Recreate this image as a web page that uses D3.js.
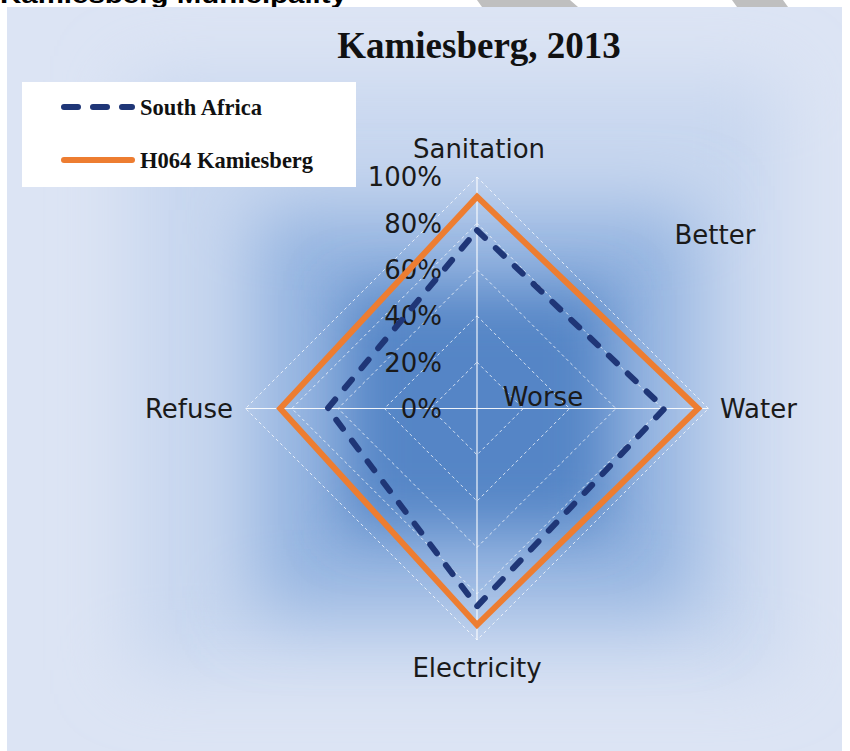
<!DOCTYPE html>
<html>
<head>
<meta charset="utf-8">
<script src="https://cdn.jsdelivr.net/npm/d3@7"></script>
<style>
  html, body { margin: 0; padding: 0; background: #ffffff; }
  svg { display: block; }
</style>
</head>
<body>
<svg id="chart" width="850" height="751"></svg>
<script>
// Service access indicators, share of households
const categories = ["Sanitation", "Water", "Electricity", "Refuse"];
const southAfrica = [0.77, 0.81, 0.855, 0.645];
const kamiesberg = [0.915, 0.955, 0.935, 0.85];
const tickValues = [0, 0.2, 0.4, 0.6, 0.8, 1.0];
const seriesNames = ["South Africa", "H064 Kamiesberg"];

const svg = d3.select("#chart");
const W = 850, H = 751;

const defs = svg.append("defs");
const blur = defs.append("filter").attr("id", "soft")
  .attr("x", "-50%").attr("y", "-50%").attr("width", "200%").attr("height", "200%");
blur.append("feGaussianBlur").attr("stdDeviation", 36);
const blurSmall = defs.append("filter").attr("id", "softer")
  .attr("x", "-50%").attr("y", "-50%").attr("width", "200%").attr("height", "200%");
blurSmall.append("feGaussianBlur").attr("stdDeviation", 28);

// Page header behind the panel
svg.append("text")
  .attr("x", 0).attr("y", 3)
  .attr("font-family", "Liberation Sans, Arial, sans-serif")
  .attr("font-weight", "bold").attr("font-size", 24)
  .attr("textLength", 347).attr("lengthAdjust", "spacingAndGlyphs")
  .attr("fill", "#000")
  .text("Kamiesberg Municipality");

const tabs = svg.append("g").attr("fill", "#bfbfbf");
tabs.append("polygon").attr("points", "477,0 570,0 578,7 482,7");
tabs.append("polygon").attr("points", "732,0 783,0 788,7 737,7");

// Chart panel with soft blue shading toward the middle
const panel = svg.append("g");
panel.append("rect").attr("x", 7).attr("y", 7).attr("width", 835).attr("height", H - 7)
  .attr("fill", "#dce4f4");
defs.append("clipPath").attr("id", "panelClip").append("rect")
  .attr("x", 7).attr("y", 7).attr("width", 835).attr("height", H - 7);
const shade = panel.append("g").attr("clip-path", "url(#panelClip)");
shade.append("rect").attr("x", 130).attr("y", 80).attr("width", 650).attr("height", 590)
  .attr("fill", "#c8d7ef").attr("filter", "url(#soft)");
shade.append("rect").attr("x", 255).attr("y", 210).attr("width", 440).attr("height", 400)
  .attr("fill", "#93b3e0").attr("filter", "url(#soft)");
shade.append("rect").attr("x", 345).attr("y", 290).attr("width", 265).attr("height", 240)
  .attr("fill", "#5585c6").attr("filter", "url(#softer)");

// Radar geometry
const cx = 477, cy = 408.5, R = 231.5;
const r = d3.scaleLinear().domain([0, 1]).range([0, R]);
const step = 2 * Math.PI / categories.length;
const ang = (i) => i * step; // 0 = up, clockwise
const px = (i, v) => cx + r(v) * Math.sin(ang(i));
const py = (i, v) => cy - r(v) * Math.cos(ang(i));

const grid = svg.append("g");
// rings
tickValues.filter(t => t > 0).forEach(t => {
  grid.append("polygon")
    .attr("points", categories.map((c, i) => [px(i, t), py(i, t)].join(",")).join(" "))
    .attr("fill", "none")
    .attr("stroke", "#ffffff").attr("stroke-opacity", 0.75)
    .attr("stroke-width", 1).attr("stroke-dasharray", "3,3");
});
// spokes
categories.forEach((c, i) => {
  grid.append("line")
    .attr("x1", cx).attr("y1", cy)
    .attr("x2", px(i, 1)).attr("y2", py(i, 1))
    .attr("stroke", "#ffffff").attr("stroke-opacity", 0.9).attr("stroke-width", 1.2);
});

// radial tick labels along the vertical axis
const labelFont = "DejaVu Sans, Verdana, sans-serif";
svg.append("g").selectAll("text").data(tickValues).join("text")
  .attr("x", 442)
  .attr("y", d => cy - r(d))
  .attr("dy", "0.36em")
  .attr("text-anchor", "end")
  .attr("font-family", labelFont).attr("font-size", 26)
  .attr("fill", "#1a1a1a")
  .text(d => d3.format(".0%")(d));

// series
const line = d3.line().x(d => d[0]).y(d => d[1]).curve(d3.curveLinearClosed);
const toPts = (vals) => vals.map((v, i) => [px(i, v), py(i, v)]);

svg.append("path")
  .attr("d", line(toPts(kamiesberg)))
  .attr("fill", "none").attr("stroke", "#ed7d31")
  .attr("stroke-width", 6).attr("stroke-linejoin", "miter");

svg.append("path")
  .attr("d", line(toPts(southAfrica)))
  .attr("fill", "none").attr("stroke", "#1f3677")
  .attr("stroke-width", 6).attr("stroke-linecap", "round")
  .attr("stroke-dasharray", "11,15");

// category labels
const catLabels = svg.append("g")
  .attr("font-family", labelFont).attr("font-size", 26).attr("fill", "#1a1a1a");
catLabels.append("text").attr("x", cx + 2).attr("y", 158).attr("text-anchor", "middle").text(categories[0]);
catLabels.append("text").attr("x", 720).attr("y", 418).attr("text-anchor", "start").text(categories[1]);
catLabels.append("text").attr("x", cx).attr("y", 677).attr("text-anchor", "middle").text(categories[2]);
catLabels.append("text").attr("x", 233).attr("y", 418).attr("text-anchor", "end").text(categories[3]);
catLabels.append("text").attr("x", 715).attr("y", 244).attr("text-anchor", "middle").text("Better");
catLabels.append("text").attr("x", 543).attr("y", 406).attr("text-anchor", "middle").text("Worse");

// title
const title = svg.append("text")
  .attr("x", 479).attr("y", 58).attr("text-anchor", "middle")
  .attr("font-family", "Liberation Serif, Times New Roman, serif")
  .attr("font-size", 37).attr("font-weight", "bold").attr("fill", "#111");
title.append("tspan").text("Kamiesberg, ");
title.append("tspan").text("2013");

// legend
const lg = svg.append("g");
lg.append("rect").attr("x", 22).attr("y", 82).attr("width", 334).attr("height", 105).attr("fill", "#ffffff");
const legendRows = [
  { name: seriesNames[0], y: 107, color: "#1f3677", dash: "14,15" },
  { name: seriesNames[1], y: 160, color: "#ed7d31", dash: null }
];
legendRows.forEach(row => {
  const l = lg.append("line")
    .attr("x1", 64).attr("x2", 132).attr("y1", row.y).attr("y2", row.y)
    .attr("stroke", row.color).attr("stroke-width", 6).attr("stroke-linecap", "round");
  if (row.dash) l.attr("stroke-dasharray", row.dash);
  lg.append("text").attr("x", 140).attr("y", row.y).attr("dy", "0.35em")
    .attr("font-family", "Liberation Serif, Times New Roman, serif")
    .attr("font-weight", "bold").attr("font-size", 22.5).attr("fill", "#111")
    .text(row.name);
});
</script>
</body>
</html>
